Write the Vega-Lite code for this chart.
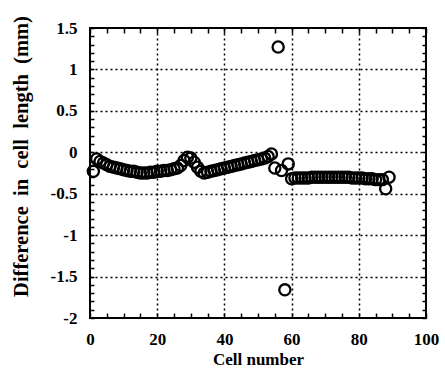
{
  "$schema": "https://vega.github.io/schema/vega-lite/v6.json",
  "width": 336,
  "height": 290,
  "autosize": "none",
  "padding": {"left": 90, "top": 28, "right": 19, "bottom": 58},
  "background": "white",
  "config": {
    "view": {"stroke": "black", "strokeWidth": 2},
    "axis": {
      "labelFont": "Liberation Serif",
      "labelFontWeight": "bold",
      "labelFontSize": 17,
      "labelColor": "black",
      "titleFont": "Liberation Serif",
      "titleFontWeight": "bold",
      "titleFontSize": 17,
      "titleColor": "black",
      "domain": false,
      "tickColor": "black",
      "tickWidth": 1.5,
      "gridColor": "black",
      "gridWidth": 1.5,
      "gridDash": [2, 3]
    }
  },
  "data": {
    "values": [
      {"cell": 1, "diff": -0.23},
      {"cell": 2, "diff": -0.08},
      {"cell": 3, "diff": -0.11},
      {"cell": 4, "diff": -0.13},
      {"cell": 5, "diff": -0.15},
      {"cell": 6, "diff": -0.17},
      {"cell": 7, "diff": -0.18},
      {"cell": 8, "diff": -0.19},
      {"cell": 9, "diff": -0.2},
      {"cell": 10, "diff": -0.21},
      {"cell": 11, "diff": -0.22},
      {"cell": 12, "diff": -0.23},
      {"cell": 13, "diff": -0.23},
      {"cell": 14, "diff": -0.24},
      {"cell": 15, "diff": -0.25},
      {"cell": 16, "diff": -0.25},
      {"cell": 17, "diff": -0.25},
      {"cell": 18, "diff": -0.24},
      {"cell": 19, "diff": -0.24},
      {"cell": 20, "diff": -0.23},
      {"cell": 21, "diff": -0.23},
      {"cell": 22, "diff": -0.22},
      {"cell": 23, "diff": -0.22},
      {"cell": 24, "diff": -0.21},
      {"cell": 25, "diff": -0.2},
      {"cell": 26, "diff": -0.19},
      {"cell": 27, "diff": -0.16},
      {"cell": 28, "diff": -0.1},
      {"cell": 29, "diff": -0.06},
      {"cell": 30, "diff": -0.07},
      {"cell": 31, "diff": -0.12},
      {"cell": 32, "diff": -0.18},
      {"cell": 33, "diff": -0.23},
      {"cell": 34, "diff": -0.25},
      {"cell": 35, "diff": -0.24},
      {"cell": 36, "diff": -0.23},
      {"cell": 37, "diff": -0.22},
      {"cell": 38, "diff": -0.21},
      {"cell": 39, "diff": -0.2},
      {"cell": 40, "diff": -0.19},
      {"cell": 41, "diff": -0.18},
      {"cell": 42, "diff": -0.17},
      {"cell": 43, "diff": -0.16},
      {"cell": 44, "diff": -0.15},
      {"cell": 45, "diff": -0.14},
      {"cell": 46, "diff": -0.13},
      {"cell": 47, "diff": -0.12},
      {"cell": 48, "diff": -0.11},
      {"cell": 49, "diff": -0.1},
      {"cell": 50, "diff": -0.09},
      {"cell": 51, "diff": -0.08},
      {"cell": 52, "diff": -0.07},
      {"cell": 53, "diff": -0.05},
      {"cell": 54, "diff": -0.02},
      {"cell": 55, "diff": -0.19},
      {"cell": 56, "diff": 1.27},
      {"cell": 57, "diff": -0.22},
      {"cell": 58, "diff": -1.66},
      {"cell": 59, "diff": -0.14},
      {"cell": 60, "diff": -0.32},
      {"cell": 61, "diff": -0.31},
      {"cell": 62, "diff": -0.31},
      {"cell": 63, "diff": -0.31},
      {"cell": 64, "diff": -0.31},
      {"cell": 65, "diff": -0.31},
      {"cell": 66, "diff": -0.3},
      {"cell": 67, "diff": -0.3},
      {"cell": 68, "diff": -0.3},
      {"cell": 69, "diff": -0.3},
      {"cell": 70, "diff": -0.3},
      {"cell": 71, "diff": -0.3},
      {"cell": 72, "diff": -0.3},
      {"cell": 73, "diff": -0.3},
      {"cell": 74, "diff": -0.3},
      {"cell": 75, "diff": -0.3},
      {"cell": 76, "diff": -0.3},
      {"cell": 77, "diff": -0.3},
      {"cell": 78, "diff": -0.31},
      {"cell": 79, "diff": -0.31},
      {"cell": 80, "diff": -0.31},
      {"cell": 81, "diff": -0.31},
      {"cell": 82, "diff": -0.32},
      {"cell": 83, "diff": -0.32},
      {"cell": 84, "diff": -0.32},
      {"cell": 85, "diff": -0.33},
      {"cell": 86, "diff": -0.33},
      {"cell": 87, "diff": -0.33},
      {"cell": 88, "diff": -0.44},
      {"cell": 89, "diff": -0.3}
    ]
  },
  "layer": [
    {
      "mark": {"type": "point", "shape": "circle", "filled": false, "stroke": "black", "strokeWidth": 2.3, "size": 125, "opacity": 1},
      "encoding": {
        "x": {
          "field": "cell", "type": "quantitative",
          "scale": {"domain": [0, 100], "nice": false, "zero": false},
          "axis": {
            "orient": "bottom",
            "title": "Cell number",
            "titlePadding": 4,
            "values": [0,5,10,15,20,25,30,35,40,45,50,55,60,65,70,75,80,85,90,95,100],
            "labelExpr": "datum.value % 20 === 0 ? datum.value + '' : ''",
            "labelPadding": 18,
            "labelFlush": false,
            "tickSize": -5,
            "gridOpacity": {"condition": {"test": "datum.value % 20 === 0 && datum.value > 0 && datum.value < 100", "value": 1}, "value": 0}
          }
        },
        "y": {
          "field": "diff", "type": "quantitative",
          "scale": {"domain": [-2, 1.5], "nice": false, "zero": false},
          "axis": {
            "orient": "left",
            "title": "Difference\u00a0\u00a0in\u00a0\u00a0cell\u00a0\u00a0length\u00a0\u00a0(mm)",
            "titleFontSize": 20.5,
            "titlePadding": 19,
            "titleY": 128,
            "values": [-2,-1.9,-1.8,-1.7,-1.6,-1.5,-1.4,-1.3,-1.2,-1.1,-1,-0.9,-0.8,-0.7,-0.6,-0.5,-0.4,-0.3,-0.2,-0.1,0,0.1,0.2,0.3,0.4,0.5,0.6,0.7,0.8,0.9,1,1.1,1.2,1.3,1.4,1.5],
            "labelExpr": "abs(datum.value*2 - round(datum.value*2)) < 0.001 ? datum.value + '' : ''",
            "labelPadding": 17,
            "labelFlush": false,
            "tickSize": -4,
            "gridOpacity": {"condition": {"test": "abs(datum.value*2 - round(datum.value*2)) < 0.001 && datum.value > -1.99 && datum.value < 1.49", "value": 1}, "value": 0}
          }
        }
      }
    },
    {
      "mark": {"type": "point", "opacity": 0},
      "encoding": {
        "x": {
          "field": "cell", "type": "quantitative",
          "axis": {
            "orient": "top", "title": null, "labels": false, "grid": false,
            "values": [0,5,10,15,20,25,30,35,40,45,50,55,60,65,70,75,80,85,90,95,100],
            "tickSize": -5
          }
        },
        "y": {
          "field": "diff", "type": "quantitative",
          "axis": {
            "orient": "right", "title": null, "labels": false, "grid": false,
            "values": [-2,-1.9,-1.8,-1.7,-1.6,-1.5,-1.4,-1.3,-1.2,-1.1,-1,-0.9,-0.8,-0.7,-0.6,-0.5,-0.4,-0.3,-0.2,-0.1,0,0.1,0.2,0.3,0.4,0.5,0.6,0.7,0.8,0.9,1,1.1,1.2,1.3,1.4,1.5],
            "tickSize": -4
          }
        }
      }
    }
  ],
  "resolve": {"axis": {"x": "independent", "y": "independent"}}
}
